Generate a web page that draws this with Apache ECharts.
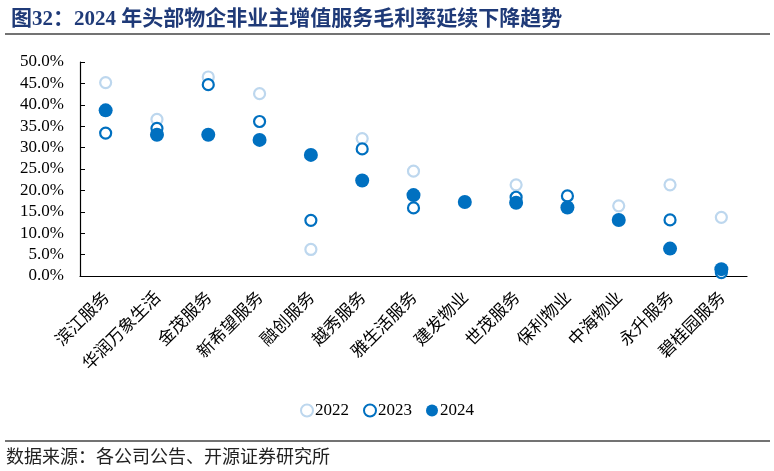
<!DOCTYPE html>
<html><head><meta charset="utf-8">
<script src="https://cdn.jsdelivr.net/npm/echarts@6/dist/echarts.min.js"></script>
<style>html,body{margin:0;padding:0;background:#fff}#c{width:774px;height:471px}</style>
</head><body><div id="c"></div>
<script>
const categories = ['滨江服务','华润万象生活','金茂服务','新希望服务','融创服务','越秀服务','雅生活服务','建发物业','世茂服务','保利物业','中海物业','永升服务','碧桂园服务'];
const v2022 = [45.2, 36.6, 46.5, 42.6, 6.2, 32.1, 24.5, null, 21.3, null, 16.4, 21.3, 13.7];
const v2023 = [33.4, 34.5, 44.7, 36.1, 13.0, 29.7, 15.9, null, 18.4, 18.7, null, 13.1, 0.8];
const v2024 = [38.7, 33.0, 33.0, 31.8, 28.3, 22.3, 18.9, 17.3, 17.1, 16.0, 13.1, 6.4, 1.6];
const yTicks = [0, 5, 10, 15, 20, 25, 30, 35, 40, 45, 50];

const serif = '"Liberation Serif","Noto Sans CJK SC",serif';
const chart = echarts.init(document.getElementById('c'));
chart.setOption({
  animation: false,
  backgroundColor: '#fff',
  title: {
    text: '图32：2024 年头部物企非业主增值服务毛利率延续下降趋势',
    left: 6, top: 4,
    textStyle: {fontFamily: serif, fontSize: 21, fontWeight: 'bold', color: '#1F3A78'}
  },
  graphic: [
    {type: 'line', shape: {x1: 5, y1: 34, x2: 770, y2: 34}, style: {stroke: '#444', lineWidth: 1.5}},
    {type: 'line', shape: {x1: 5, y1: 441, x2: 770, y2: 441}, style: {stroke: '#444', lineWidth: 1.5}},
    {type: 'text', left: 6, top: 447, style: {text: '数据来源：各公司公告、开源证券研究所', font: '18px "Noto Sans CJK SC", sans-serif', fill: '#222'}}
  ],
  legend: {
    data: ['2022', '2023', '2024'],
    left: 'center', top: 397,
    icon: 'circle', itemWidth: 12, itemHeight: 12, itemGap: 14,
    textStyle: {fontFamily: serif, fontSize: 17, color: '#000', padding: [0, 0, 0, -3]}
  },
  grid: {left: 80, right: 27, top: 62, bottom: 195},
  xAxis: {
    type: 'category', data: categories,
    boundaryGap: true,
    axisLine: {lineStyle: {color: '#000', width: 1.2}},
    axisTick: {inside: true, length: 5, lineStyle: {color: '#000'}},
    axisLabel: {rotate: 45, interval: 0, margin: 18, fontFamily: '"Noto Sans CJK SC",sans-serif', fontSize: 17, color: '#000'}
  },
  yAxis: {
    type: 'value', min: yTicks[0], max: yTicks[yTicks.length - 1], interval: 5,
    splitLine: {show: false},
    axisLine: {show: true, lineStyle: {color: '#000', width: 1.2}},
    axisTick: {show: true, inside: true, length: 5, lineStyle: {color: '#000'}},
    axisLabel: {formatter: v => v.toFixed(1) + '%', fontFamily: serif, fontSize: 17, color: '#000', margin: 16}
  },
  series: [
    {name: '2022', type: 'scatter', data: v2022, symbol: 'circle', symbolSize: 11,
     itemStyle: {color: '#fff', borderColor: '#BDD7EE', borderWidth: 2.2, opacity: 1}, z: 2},
    {name: '2023', type: 'scatter', data: v2023, symbol: 'circle', symbolSize: 11,
     itemStyle: {color: '#fff', borderColor: '#0070C0', borderWidth: 2.2, opacity: 1}, z: 3},
    {name: '2024', type: 'scatter', data: v2024, symbol: 'circle', symbolSize: 14,
     itemStyle: {color: '#0070C0', opacity: 1}, z: 4}
  ]
});
</script></body></html>
